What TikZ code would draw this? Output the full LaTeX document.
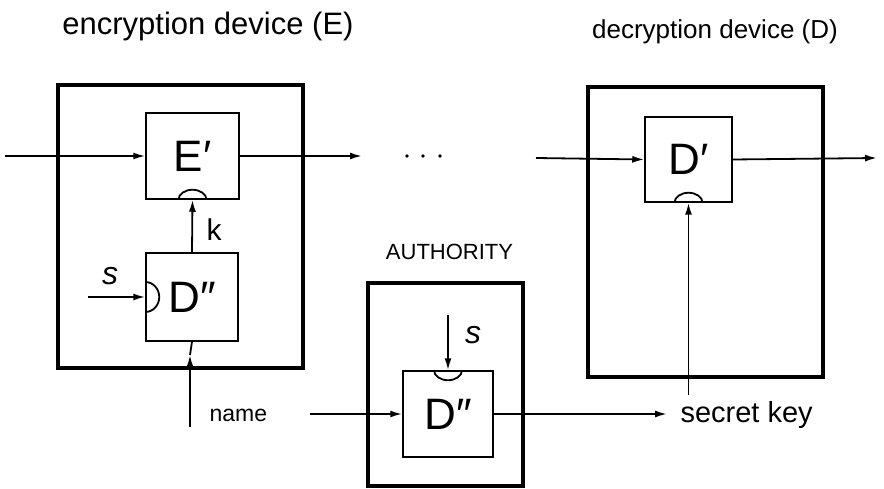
\documentclass[tikz,border=0pt]{standalone}
\usepackage{fontspec}
\setmainfont{Liberation Sans}
\usetikzlibrary{arrows.meta}

\begin{document}
\begin{tikzpicture}[x=1pt, y=1pt,
    device/.style={draw, line width=3.2pt, inner sep=0pt},
    unit/.style={draw, line width=1.5pt, inner sep=0pt, font=\fontsize{44}{48}\selectfont},
    wire/.style={line width=1.8pt},
    arr/.style={wire, -{Latex[length=12pt,width=7pt]}},
    title/.style={font=\fontsize{31}{34}\selectfont},
    lbl/.style={font=\fontsize{24}{28}\selectfont},
]
\useasboundingbox (0,0) rectangle (884,488);

% Headers
\node[title] (tE) at (208,462) {encryption device (E)};
\node[title, font=\fontsize{26}{30}\selectfont] (tD) at (715,456) {decryption device (D)};

% Encryption device
\node[device, minimum width=245pt, minimum height=283pt] (E) at (180.5,261.5) {};
\node[unit, minimum width=93pt, minimum height=86pt] (Ep) at (192.5,332) {E′};
\node[unit, minimum width=92pt, minimum height=88pt] (Dl) at (192,191) {D″};
\draw[wire] (Ep.south) ++(14,0) arc[start angle=0, end angle=180, x radius=14, y radius=10];
\draw[wire] (Dl.west) ++(0,15) arc[start angle=90, end angle=-90, x radius=14, y radius=15];

\coordinate (in) at (5,332);
\coordinate (out) at (362,332);
\draw[arr] (in) -- (Ep.west);
\draw[arr] (Ep.east) -- (out);
\draw[arr] (Dl.north) -- (Ep.south);
\node[lbl, font=\fontsize{30}{32}\selectfont] (k) at (214,258) {k};

\coordinate (sl) at (88,191);
\draw[arr] (sl) -- (Dl.west);
\node[lbl, font=\fontsize{32}{34}\selectfont] (s1) at (110,212) {\textit{s}};

\coordinate (nm) at (190,61);
\coordinate (nmtip) at (190,133);
\draw[arr] (nm) -- (nmtip);
\draw[wire] (nmtip) -- (Dl.south);
\node[lbl, font=\fontsize{23}{26}\selectfont, anchor=west] (name) at (206,73) {name};

% Dots
\foreach \x in {407,423,440}
  \fill (\x,332) circle (1.8);

% Authority
\node[lbl, font=\fontsize{22}{24}\selectfont] (auth) at (449.5,236) {AUTHORITY};
\node[device, minimum width=155pt, minimum height=203pt] (A) at (445.5,103.5) {};
\node[unit, minimum width=90pt, minimum height=86pt] (Da) at (448,74) {D″};
\draw[wire] (Da.north) ++(-14,0) arc[start angle=180, end angle=360, x radius=14, y radius=10];

\coordinate (nin) at (310,74);
\coordinate (sa) at (448,173);
\coordinate (kout) at (667,74);
\draw[arr] (nin) -- (Da.west);
\draw[arr] (sa) -- (Da.north);
\node[lbl, font=\fontsize{32}{34}\selectfont] (s2) at (473,153) {\textit{s}};
\draw[arr] (Da.east) -- (kout);
\node[lbl, font=\fontsize{29}{32}\selectfont, anchor=west] (sk) at (677,73) {secret key};

% Decryption device
\node[device, minimum width=235pt, minimum height=290pt] (D) at (705.5,256) {};
\node[unit, minimum width=87pt, minimum height=85pt] (Dp) at (688.5,328.5) {D′};
\draw[wire] (Dp.south) ++(14,0) arc[start angle=0, end angle=180, x radius=14, y radius=10];

\coordinate (din) at (536,330);
\coordinate (dout) at (877,330);
\coordinate (kin) at (688.5,93);
\draw[arr] (din) -- (Dp.west);
\draw[arr] (Dp.east) -- (dout);
\draw[arr] (kin) -- (Dp.south);

\end{tikzpicture}
\end{document}
